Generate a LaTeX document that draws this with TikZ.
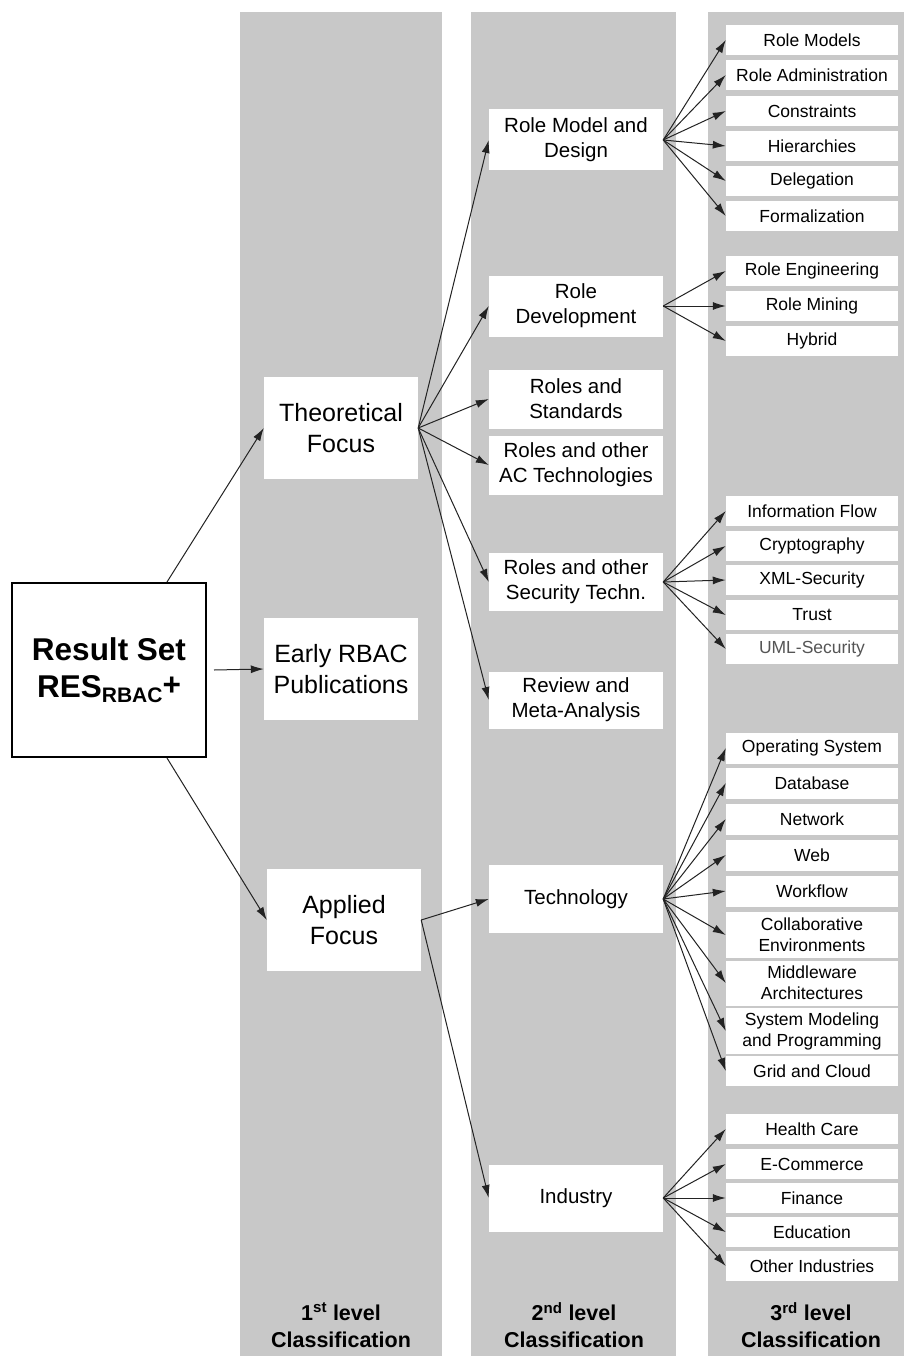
\documentclass[tikz,border=0pt]{standalone}
\usepackage{fontspec}
\setmainfont{Liberation Sans}
\definecolor{colgray}{RGB}{200,200,200}
\definecolor{linegray}{RGB}{35,35,35}
\definecolor{fadedtext}{RGB}{85,85,85}
\usetikzlibrary{arrows.meta,positioning}
\tikzstyle{column}=[fill=colgray,draw=none]
\tikzstyle{rootbox}=[draw=black,line width=2pt,fill=white,minimum width=194pt,minimum height=174pt,align=center,inner sep=0pt,font=\fontsize{31.5}{37}\selectfont\bfseries]
\tikzstyle{firstcat}=[fill=white,minimum width=154pt,minimum height=102pt,align=center,inner sep=0pt,font=\fontsize{25}{31}\selectfont]
\tikzstyle{secondcat}=[fill=white,minimum width=174pt,minimum height=59pt,align=center,inner sep=0pt,font=\fontsize{20.5}{25}\selectfont]
\tikzstyle{thirdcat}=[fill=white,minimum width=172pt,minimum height=30pt,align=center,inner sep=0pt,font=\fontsize{17.5}{21}\selectfont]
\tikzstyle{levellabel}=[align=center,inner sep=0pt,font=\fontsize{21.5}{27}\selectfont\bfseries]
\tikzstyle{link}=[draw=linegray,line width=1pt,-{Latex[length=13pt,width=8pt]}]

\begin{document}
\begin{tikzpicture}[x=1pt,y=-1pt]
\useasboundingbox[fill=white] (0,0) rectangle (904,1356);
% gray columns
\fill[column] (240,12) rectangle (442,1356);
\fill[column] (471,12) rectangle (676,1356);
\fill[column] (708,12) rectangle (904,1356);

% root
\node [rootbox] (res) at (109,670) {Result Set\\RES\raisebox{-0.3ex}{\fontsize{21}{21}\selectfont RBAC}\raisebox{0.12ex}{+}};

% 1st level
\node [firstcat] (theo) at (341,428) {Theoretical\\Focus};
\node [firstcat] (early) at (341,669) {Early RBAC\\Publications};
\node [firstcat] (appl) at (344,920) {Applied\\Focus};

% 2nd level
\node [secondcat, minimum height=61pt] (rmd) at (576,140) {Role Model and\\Design};
\node [secondcat, minimum height=61pt] (rdev) at (576,306) {Role\\Development};
\node [secondcat] (rstd) at (576,399) {Roles and\\Standards};
\node [secondcat] (rac) at (576,465) {Roles and other\\AC Technologies};
\node [secondcat, minimum height=58pt] (rsec) at (576,582) {Roles and other\\Security Techn.};
\node [secondcat, minimum height=57pt] (rrev) at (576,700) {Review and\\Meta-Analysis};
\node [secondcat, minimum height=68pt] (tech) at (576,899) {Technology};
\node [secondcat, minimum height=67pt] (ind) at (576,1198) {Industry};

% 3rd level
\node [thirdcat] (rmod) at (812,40) {Role Models};
\node [thirdcat] (radm) at (812,75) {Role Administration};
\node [thirdcat] (cons) at (812,111) {Constraints};
\node [thirdcat] (hier) at (812,146) {Hierarchies};
\node [thirdcat] (dele) at (812,181) {Delegation};
\node [thirdcat] (form) at (812,216) {Formalization};

\node [thirdcat] (reng) at (812,271) {Role Engineering};
\node [thirdcat] (rmin) at (812,306) {Role Mining};
\node [thirdcat] (hyb) at (812,341) {Hybrid};

\node [thirdcat] (iflow) at (812,511) {Information Flow};
\node [thirdcat] (crypt) at (812,546) {Cryptography};
\node [thirdcat] (xmls) at (812,580) {XML-Security};
\node [thirdcat] (trust) at (812,615) {Trust};
\node [thirdcat, text=fadedtext] (umls) at (812,649) {UML-Security};

\node [thirdcat, minimum height=31pt] (opsys) at (812,748) {Operating System};
\node [thirdcat, minimum height=31pt] (dbase) at (812,783) {Database};
\node [thirdcat, minimum height=31pt] (netw) at (812,819) {Network};
\node [thirdcat, minimum height=31pt] (web) at (812,855) {Web};
\node [thirdcat, minimum height=31pt] (wflow) at (812,891) {Workflow};
\node [thirdcat, minimum height=46pt] (collab) at (812,935) {Collaborative\\Environments};
\node [thirdcat, minimum height=45pt] (middle) at (812,983) {Middleware\\Architectures};
\node [thirdcat, minimum height=46pt] (sysmod) at (812,1031) {System Modeling\\and Programming};
\node [thirdcat] (grid) at (812,1071) {Grid and Cloud};

\node [thirdcat] (health) at (812,1129) {Health Care};
\node [thirdcat] (ecom) at (812,1164) {E-Commerce};
\node [thirdcat] (fin) at (812,1198) {Finance};
\node [thirdcat] (edu) at (812,1232) {Education};
\node [thirdcat] (othind) at (812,1266) {Other Industries};

% column captions
\node [levellabel] (lab1) at (341,1325) {1\textsuperscript{st} level\\Classification};
\node [levellabel] (lab2) at (574,1325) {2\textsuperscript{nd} level\\Classification};
\node [levellabel] (lab3) at (811,1325) {3\textsuperscript{rd} level\\Classification};

% connectors
\draw [link] ([xshift=-40pt]res.north east) -- (theo.west);
\draw [link] ([xshift=7pt]res.east) -- (early.west);
\draw [link] ([xshift=-40pt]res.south east) -- (appl.west);

\path (theo.east) edge [link] (rmd.west) edge [link] (rdev.west) edge [link] (rstd.west)
  edge [link] (rac.west) edge [link] (rsec.west) edge [link] (rrev.west);
\path (appl.east) edge [link] (tech.west) edge [link] (ind.west);

\path (rmd.east) edge [link] (rmod.west) edge [link] (radm.west) edge [link] (cons.west)
  edge [link] (hier.west) edge [link] (dele.west) edge [link] (form.west);
\path (rdev.east) edge [link] (reng.west) edge [link] (rmin.west) edge [link] (hyb.west);
\path (rsec.east) edge [link] (iflow.west) edge [link] (crypt.west) edge [link] (xmls.west)
  edge [link] (trust.west) edge [link] (umls.west);
\path (tech.east) edge [link] (opsys.west) edge [link] (dbase.west) edge [link] (netw.west)
  edge [link] (web.west) edge [link] (wflow.west) edge [link] (collab.west)
  edge [link] (middle.west) edge [link] (sysmod.west) edge [link] (grid.west);
\path (ind.east) edge [link] (health.west) edge [link] (ecom.west) edge [link] (fin.west)
  edge [link] (edu.west) edge [link] (othind.west);
\end{tikzpicture}
\end{document}
